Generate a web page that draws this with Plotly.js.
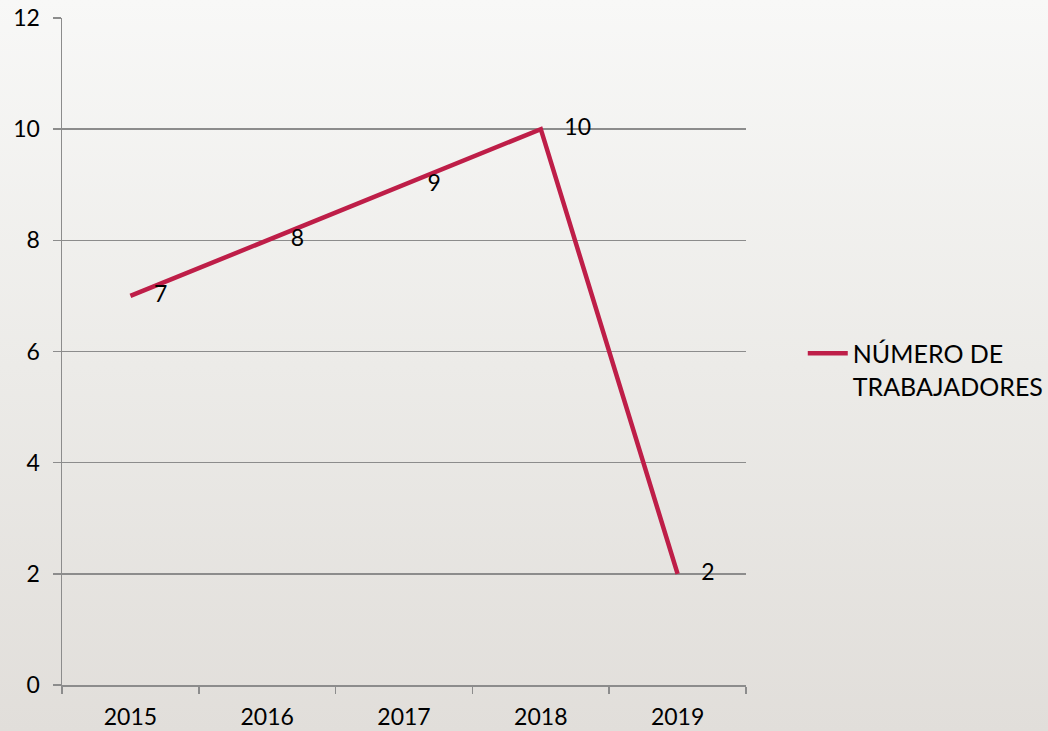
<!DOCTYPE html>
<html>
<head>
<meta charset="utf-8">
<script src="https://cdn.plot.ly/plotly-3.0.1.min.js"></script>
<style>
html, body { margin:0; padding:0; }
body { width:1048px; height:731px; background: linear-gradient(to bottom, #f8f8f7 0%, #ecebe8 50%, #e1deda 100%); }
#chart { width:1048px; height:731px; }
</style>
</head>
<body>
<div id="chart"></div>
<script>
var years = ["2015", "2016", "2017", "2018", "2019"];
var workers = [7, 8, 9, 10, 2];
var seriesName = "NÚMERO DE<br>TRABAJADORES";
var labelText = workers.map(function (v) { return "    " + v; });

var trace = {
  x: years,
  y: workers,
  type: "scatter",
  mode: "lines",
  name: seriesName,
  line: { color: "#be1e48", width: 4.5 }
};

var labels = {
  x: years,
  y: workers,
  type: "scatter",
  mode: "text",
  text: labelText,
  textposition: "middle right",
  textfont: { family: "Lato, 'DejaVu Sans', sans-serif", size: 23, color: "#000" },
  showlegend: false,
  hoverinfo: "skip"
};

var layout = {
  width: 1048, height: 731,
  paper_bgcolor: "rgba(0,0,0,0)",
  plot_bgcolor: "rgba(0,0,0,0)",
  margin: { l: 62, r: 302, t: 18, b: 46, autoexpand: false },
  font: { family: "Lato, 'DejaVu Sans', sans-serif", size: 23, color: "#000" },
  showlegend: true,
  legend: {
    x: 1.083, xanchor: "left", y: 0.473, yanchor: "middle",
    valign: "top",
    bgcolor: "rgba(0,0,0,0)",
    font: { size: 25, color: "#000" },
    itemwidth: 40
  },
  xaxis: {
    type: "category",
    range: [-0.5, 4.5],
    showgrid: false,
    showline: true, linecolor: "#8c8c8c", linewidth: 1.5,
    ticks: "outside", tickson: "boundaries", ticklen: 7, tickcolor: "#8c8c8c", tickwidth: 1.5,
    tickfont: { size: 23 },
    zeroline: false,
    ticklabelstandoff: 11
  },
  yaxis: {
    range: [0, 12],
    dtick: 2,
    showgrid: true, gridcolor: "#8c8c8c", gridwidth: 1.5,
    showline: true, linecolor: "#8c8c8c", linewidth: 1.5,
    ticks: "outside", ticklen: 8, tickcolor: "#8c8c8c", tickwidth: 1.5,
    tickfont: { size: 23 },
    zeroline: false,
    ticklabelstandoff: 8
  }
};

Plotly.newPlot("chart", [trace, labels], layout, { displayModeBar: false, staticPlot: true });
</script>
</body>
</html>
